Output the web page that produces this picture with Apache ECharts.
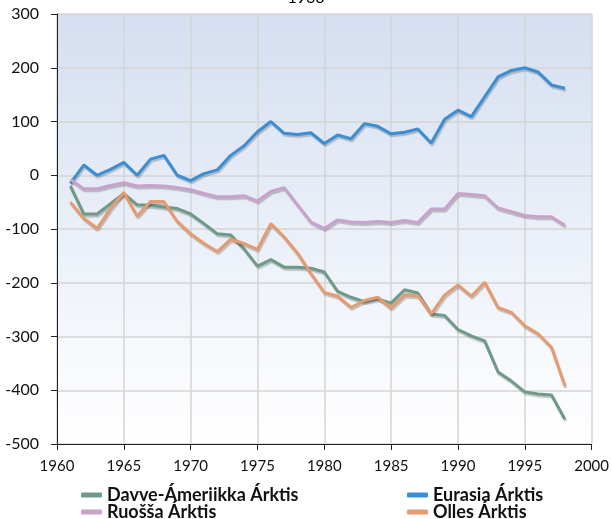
<!DOCTYPE html>
<html>
<head>
<meta charset="utf-8">
<script src="https://cdn.jsdelivr.net/npm/echarts@6/dist/echarts.min.js"></script>
<style>
  html, body { margin: 0; padding: 0; background: #ffffff; }
  #chart { width: 612px; height: 519px; }
</style>
</head>
<body>
<div id="chart"></div>
<script>
// Glacier mass balance by Arctic region, 1961–1998
const years = [];
for (let y = 1961; y <= 1998; y++) years.push(y);

const davveAmeriikka = [-20, -72, -72, -53, -34, -55, -56, -59, -62, -72, -90, -109, -111, -137, -169, -157, -171, -171, -173, -180,
  -216, -227, -235, -230, -238, -213, -219, -258, -261, -287, -299, -308, -366, -383, -403, -407, -409, -454];
const eurasia = [-15, 19, 0, 11, 24, 0, 30, 37, 0, -10, 3, 10, 37, 55, 81, 100, 78, 76, 79, 59,
  75, 68, 96, 91, 77, 80, 86, 60, 104, 121, 109, 146, 183, 195, 200, 192, 168, 162];
const ruossa = [-8, -25, -25, -19, -14, -20, -19, -20, -23, -27, -34, -40, -40, -38, -48, -30, -23, -55, -87, -99,
  -83, -87, -88, -86, -88, -84, -88, -63, -63, -34, -36, -38, -61, -68, -75, -77, -77, -93];
const olles = [-50, -80, -99, -62, -32, -76, -49, -49, -86, -109, -127, -142, -119, -127, -138, -90, -115, -145, -183, -218,
  -225, -246, -233, -227, -247, -223, -224, -258, -223, -204, -225, -199, -246, -255, -280, -295, -320, -392];

const seriesNames = ['Davve-Ámeriikka Árktis', 'Eurasia Árktis', 'Ruošša Árktis', 'Olles Árktis'];
const seriesColors = ['#6e9a88', '#3a8ed6', '#c9a2cb', '#e59b6e'];
const seriesValues = [davveAmeriikka, eurasia, ruossa, olles];

const baseFont = 'Lato, "DejaVu Sans", sans-serif';

function draw() {
  const chart = echarts.init(document.getElementById('chart'), null, { renderer: 'canvas' });

  const series = seriesNames.map((name, i) => ({
    name: name,
    type: 'line',
    data: years.map((y, k) => [y, seriesValues[i][k]]),
    showSymbol: false,
    symbol: 'none',
    smooth: false,
    color: seriesColors[i],
    lineStyle: {
      width: 3,
      color: seriesColors[i],
      shadowColor: 'rgba(0,0,0,0.22)',
      shadowOffsetX: 1,
      shadowOffsetY: 2,
      shadowBlur: 1
    },
    emphasis: { disabled: true },
    z: 3
  }));

  // One legend entry per box: two columns, two rows
  const legendSlots = [
    { left: 81, top: 486 },   // Davve-Ámeriikka
    { left: 407, top: 486 },  // Eurasia
    { left: 81, top: 503 },   // Ruošša
    { left: 407, top: 503 }   // Olles
  ];
  const legends = seriesNames.map((name, i) => ({
    data: [name],
    left: legendSlots[i].left,
    top: legendSlots[i].top,
    padding: 0,
    itemWidth: 21,
    itemHeight: 5,
    itemGap: 0,
    icon: 'roundRect',
    selectedMode: false,
    textStyle: {
      fontFamily: baseFont,
      fontWeight: 'bold',
      fontSize: 18,
      lineHeight: 17,
      color: '#111111',
      padding: [0, 0, 0, 0]
    }
  }));

  chart.setOption({
    animation: false,
    backgroundColor: '#ffffff',
    title: {
      text: '1960',
      left: 'center',
      top: -15,
      textStyle: { fontFamily: baseFont, fontSize: 16, fontWeight: 'normal', color: '#000' }
    },
    grid: {
      left: 57,
      right: 13,
      top: 14,
      bottom: 75,
      show: true,
      borderWidth: 0,
      backgroundColor: new echarts.graphic.LinearGradient(0, 0, 0, 1, [
        { offset: 0, color: '#d5dff1' },
        { offset: 1, color: '#ffffff' }
      ])
    },
    legend: legends,
    xAxis: {
      type: 'value',
      min: 1960,
      max: 2000,
      interval: 5,
      axisLine: { show: true, onZero: false, lineStyle: { color: '#222', width: 1 } },
      axisTick: { show: true, length: 6, lineStyle: { color: '#222' } },
      axisLabel: {
        fontFamily: baseFont,
        fontSize: 15,
        color: '#111',
        margin: 15,
        formatter: v => String(v)
      },
      splitLine: { show: true, lineStyle: { color: '#d4d4d4', width: 1.5 } }
    },
    yAxis: {
      type: 'value',
      min: -500,
      max: 300,
      interval: 100,
      axisLine: { show: true, onZero: false, lineStyle: { color: '#222', width: 1 } },
      axisTick: { show: true, length: 6, lineStyle: { color: '#222' } },
      axisLabel: {
        fontFamily: baseFont,
        fontSize: 16,
        color: '#111',
        margin: 18
      },
      splitLine: { show: true, lineStyle: { color: '#d4d4d4', width: 1.5 } }
    },
    series: series
  });
}

// Make sure the installed faces are ready before the canvas text is drawn
const fontReady = document.fonts ? Promise.all([
  document.fonts.load('15px Lato'),
  document.fonts.load('bold 18px Lato')
]).catch(() => null) : Promise.resolve();
fontReady.then(draw, draw);
</script>
</body>
</html>
